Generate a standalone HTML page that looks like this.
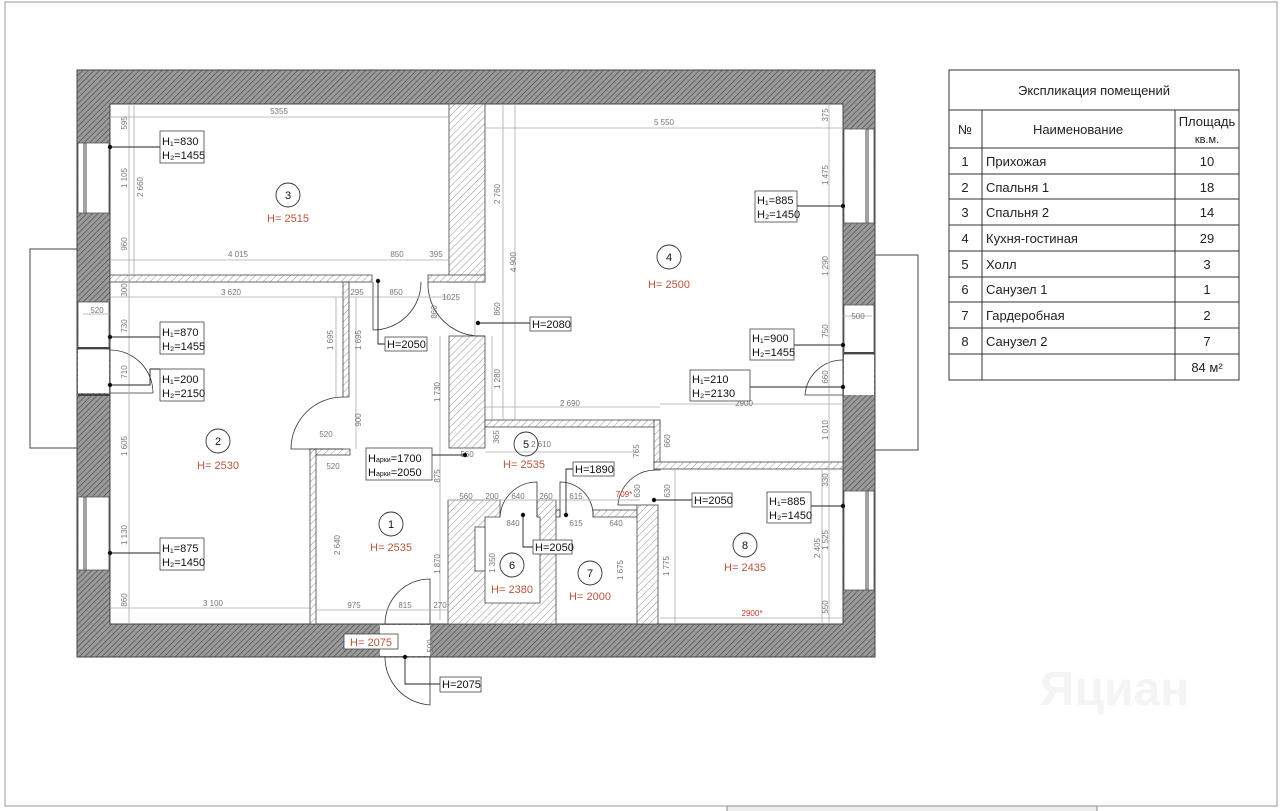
<!DOCTYPE html>
<html><head><meta charset="utf-8"><style>
html,body{margin:0;padding:0;background:#fff}
svg{display:block}
text{font-family:"Liberation Sans","DejaVu Sans",sans-serif}
.d{font-size:8px;fill:#777}
.t{font-size:11px;fill:#111}
.r{font-size:11px;fill:#b8553a}
.dl{stroke:#aaa;stroke-width:0.8;fill:none}
</style></head><body>
<svg width="1280" height="811" viewBox="0 0 1280 811" xmlns="http://www.w3.org/2000/svg">
<defs>
<pattern id="hd" width="4" height="4" patternUnits="userSpaceOnUse" patternTransform="rotate(45)">
<rect width="4" height="4" fill="#9a9a9a"/><line x1="0" y1="0" x2="0" y2="4" stroke="#444" stroke-width="1.2"/></pattern>
<pattern id="hl" width="5" height="5" patternUnits="userSpaceOnUse" patternTransform="rotate(45)">
<rect width="5" height="5" fill="#fff"/><line x1="0" y1="0" x2="0" y2="5" stroke="#777" stroke-width="0.8"/></pattern>
</defs>
<!-- page frame -->
<rect x="5" y="2" width="1272" height="804" fill="none" stroke="#999" stroke-width="1"/>
<rect x="727" y="806" width="370" height="6" fill="#eee" stroke="#888"/>

<!-- balconies -->
<polyline points="77,249 30,249 30,448 77,448" fill="none" stroke="#444"/>
<polyline points="875,255 918,255 918,450 875,450" fill="none" stroke="#444"/>

<!-- outer walls -->
<path d="M77,70 H875 V657 H77 Z M110,104 V624 H843 V104 Z" fill="url(#hd)" fill-rule="evenodd" stroke="#444"/>
<!-- openings in outer walls -->
<g fill="#fff" stroke="#555" stroke-width="0.8">
<rect x="78" y="143" width="31" height="70"/>
<rect x="78" y="302" width="31" height="48"/>
<rect x="78" y="350" width="31" height="43" stroke="none"/>
<rect x="78" y="497" width="31" height="73"/>
<rect x="844" y="129" width="30" height="94"/>
<rect x="844" y="305" width="30" height="50"/>
<rect x="844" y="355" width="30" height="40" stroke="none"/>
<rect x="844" y="491" width="30" height="99"/>
<rect x="380" y="625" width="50" height="31" stroke="none"/>
</g>
<g stroke="#444" stroke-width="1">
<line x1="84" y1="143" x2="84" y2="213"/><line x1="86" y1="143" x2="86" y2="213"/>
<line x1="84" y1="497" x2="84" y2="570"/><line x1="86" y1="497" x2="86" y2="570"/>
<line x1="866" y1="129" x2="866" y2="223"/><line x1="868" y1="129" x2="868" y2="223"/>
<line x1="866" y1="491" x2="866" y2="590"/><line x1="868" y1="491" x2="868" y2="590"/>
<line x1="78" y1="348" x2="110" y2="348" stroke-width="2"/>
<line x1="844" y1="353" x2="874" y2="353" stroke-width="2"/>
<line x1="78" y1="395" x2="110" y2="395" stroke-width="2"/>
</g>

<!-- interior walls -->
<g fill="url(#hl)" stroke="#444" stroke-width="0.8">
<rect x="449" y="104" width="36" height="178"/>
<rect x="428" y="275" width="57" height="7"/>
<rect x="110" y="275" width="262" height="7"/>
<rect x="343" y="282" width="6" height="115"/>
<rect x="449" y="336" width="36" height="112"/>
<rect x="485" y="420" width="175" height="7"/>
<rect x="654" y="420" width="6" height="50"/>
<rect x="654" y="462" width="189" height="7"/>
<rect x="310" y="449" width="40" height="6"/>
<rect x="310" y="449" width="6" height="175"/>
<path d="M448,500 H500 V517 H485 V603 H540 V517 H537 V500 H556 V624 H448 Z"/>
<rect x="556" y="510" width="4" height="7"/>
<rect x="593" y="510" width="44" height="7"/>
<rect x="637" y="505" width="21" height="119"/>
<rect x="475" y="527" width="10" height="44" fill="#fff"/>
</g>

<!-- doors -->
<g fill="none" stroke="#333" stroke-width="0.8">
<path d="M110,350 A43,43 0 0 1 153,393"/><line x1="153" y1="393" x2="110" y2="393"/>
<path d="M373,282 V330 A48,48 0 0 0 421,282"/>
<path d="M428,282 A52,52 0 0 0 480,336 H485"/>
<path d="M343,397 A52,52 0 0 0 291,449 H343"/>
<path d="M385,624 A45,45 0 0 1 430,579 V624"/>
<path d="M385,657 A48,48 0 0 0 430,705 V657"/>
<path d="M500,517 A37,37 0 0 1 537,482 V517"/>
<path d="M560,517 V482 A33,33 0 0 1 593,517"/>
<path d="M655,470 A38,38 0 0 0 618,505 H637"/>
<path d="M843,360 A38,38 0 0 0 805,395 H843"/>
</g>

<!-- dimension lines -->
<g class="dl">
<line x1="110" y1="117" x2="449" y2="117"/><line x1="485" y1="128" x2="843" y2="128"/>
<line x1="110" y1="260" x2="449" y2="260"/><line x1="110" y1="297" x2="449" y2="297"/>
<line x1="129" y1="104" x2="129" y2="624"/><line x1="134" y1="104" x2="134" y2="275"/>
<line x1="829" y1="104" x2="829" y2="624"/><line x1="503" y1="104" x2="503" y2="420"/><line x1="515" y1="104" x2="515" y2="420"/>
<line x1="485" y1="407" x2="660" y2="407"/><line x1="485" y1="452" x2="640" y2="452"/><line x1="448" y1="500" x2="640" y2="500"/>
<line x1="110" y1="608" x2="310" y2="608"/><line x1="316" y1="610" x2="448" y2="610"/><line x1="660" y1="404" x2="843" y2="404"/>
<line x1="660" y1="618" x2="843" y2="618"/><line x1="675" y1="470" x2="675" y2="624"/><line x1="822" y1="470" x2="822" y2="624"/>
<line x1="336" y1="297" x2="336" y2="397"/><line x1="356" y1="297" x2="356" y2="397"/><line x1="356" y1="397" x2="356" y2="449"/>
<line x1="440" y1="336" x2="440" y2="620"/><line x1="475" y1="282" x2="475" y2="336"/><line x1="492" y1="336" x2="492" y2="420"/>
<line x1="83" y1="314" x2="110" y2="314"/><line x1="843" y1="316" x2="872" y2="316"/>
</g>
<g class="d" text-anchor="middle">
<text x="279" y="114">5355</text><text x="664" y="125">5 550</text>
<text x="238" y="257">4 015</text><text x="397" y="257">850</text><text x="436" y="257">395</text>
<text x="231" y="295">3 620</text><text x="357" y="295">295</text><text x="396" y="295">850</text><text x="451" y="300">1025</text>
<text x="97" y="313">520</text><text x="858" y="319">500</text>
<text x="326" y="437">520</text><text x="333" y="469">520</text>
<text x="467" y="457">560</text><text x="541" y="447">2 610</text><text x="570" y="406">2 690</text><text x="744" y="406">2900</text>
<text x="466" y="499">560</text><text x="492" y="499">200</text><text x="518" y="499">640</text><text x="546" y="499">260</text><text x="576" y="499">615</text>
<text x="513" y="526">840</text><text x="576" y="526">615</text><text x="616" y="526">640</text>
<text x="213" y="606">3 100</text><text x="354" y="608">975</text><text x="405" y="608">815</text><text x="440" y="608">270</text>
</g>
<g class="d" text-anchor="middle">
<text transform="translate(127,123) rotate(-90)">595</text>
<text transform="translate(127,178) rotate(-90)">1 105</text>
<text transform="translate(143,187) rotate(-90)">2 660</text>
<text transform="translate(127,244) rotate(-90)">960</text>
<text transform="translate(127,290) rotate(-90)">300</text>
<text transform="translate(127,326) rotate(-90)">730</text>
<text transform="translate(127,372) rotate(-90)">710</text>
<text transform="translate(127,446) rotate(-90)">1 605</text>
<text transform="translate(127,535) rotate(-90)">1 130</text>
<text transform="translate(127,600) rotate(-90)">860</text>
<text transform="translate(333,340) rotate(-90)">1 695</text>
<text transform="translate(361,340) rotate(-90)">1 695</text>
<text transform="translate(361,420) rotate(-90)">900</text>
<text transform="translate(340,545) rotate(-90)">2 640</text>
<text transform="translate(440,392) rotate(-90)">1 730</text>
<text transform="translate(440,476) rotate(-90)">875</text>
<text transform="translate(440,564) rotate(-90)">1 870</text>
<text transform="translate(437,312) rotate(-90)">860</text>
<text transform="translate(500,194) rotate(-90)">2 760</text>
<text transform="translate(516,262) rotate(-90)">4 900</text>
<text transform="translate(500,309) rotate(-90)">860</text>
<text transform="translate(500,379) rotate(-90)">1 280</text>
<text transform="translate(499,437) rotate(-90)">365</text>
<text transform="translate(495,563) rotate(-90)">1 350</text>
<text transform="translate(623,570) rotate(-90)">1 675</text>
<text transform="translate(669,566) rotate(-90)">1 775</text>
<text transform="translate(639,451) rotate(-90)">765</text>
<text transform="translate(670,441) rotate(-90)">660</text>
<text transform="translate(640,491) rotate(-90)">630</text>
<text transform="translate(670,491) rotate(-90)">630</text>
<text transform="translate(828,115) rotate(-90)">375</text>
<text transform="translate(828,175) rotate(-90)">1 475</text>
<text transform="translate(828,266) rotate(-90)">1 290</text>
<text transform="translate(828,331) rotate(-90)">750</text>
<text transform="translate(828,377) rotate(-90)">660</text>
<text transform="translate(828,430) rotate(-90)">1 010</text>
<text transform="translate(828,480) rotate(-90)">330</text>
<text transform="translate(828,540) rotate(-90)">1 525</text>
<text transform="translate(820,548) rotate(-90)">2 405</text>
<text transform="translate(828,607) rotate(-90)">550</text>
<text transform="translate(433,646) rotate(-90)">500</text>
</g>
<text x="624" y="497" font-size="8" fill="#c0392b" text-anchor="middle">709*</text>
<text x="752" y="616" font-size="8" fill="#c0392b" text-anchor="middle">2900*</text>

<!-- room labels -->
<g fill="none" stroke="#333" stroke-width="0.9">
<circle cx="288" cy="195" r="12"/><circle cx="669" cy="257" r="12"/><circle cx="218" cy="441" r="12"/>
<circle cx="391" cy="524" r="12"/><circle cx="526" cy="444" r="12"/><circle cx="512" cy="565" r="12"/>
<circle cx="590" cy="573" r="12"/><circle cx="745" cy="545" r="12"/>
</g>
<g class="t" text-anchor="middle" font-size="11">
<text x="288" y="199">3</text><text x="669" y="261">4</text><text x="218" y="445">2</text><text x="391" y="528">1</text>
<text x="526" y="448">5</text><text x="512" y="569">6</text><text x="590" y="577">7</text><text x="745" y="549">8</text>
</g>
<g class="r" text-anchor="middle">
<text x="288" y="222">H= 2515</text><text x="669" y="288">H= 2500</text><text x="218" y="469">H= 2530</text>
<text x="391" y="551">H= 2535</text><text x="524" y="468">H= 2535</text><text x="512" y="593">H= 2380</text>
<text x="590" y="600">H= 2000</text><text x="745" y="571">H= 2435</text>
</g>

<!-- tags -->
<g stroke="#222" stroke-width="0.9" fill="none">
<line x1="110" y1="147" x2="160" y2="147"/><line x1="110" y1="337" x2="160" y2="337"/>
<polyline points="110,385 150,385 150,369 160,369"/><line x1="110" y1="553" x2="160" y2="553"/>
<polyline points="378,281 378,344 385,344"/><line x1="478" y1="323" x2="530" y2="323"/>
<line x1="843" y1="206" x2="797" y2="206"/><line x1="843" y1="345" x2="794" y2="345"/><line x1="843" y1="387" x2="750" y2="387"/>
<line x1="465" y1="455" x2="432" y2="455"/>
<polyline points="566,517 566,469 573,469"/><polyline points="523,515 523,547 533,547"/>
<line x1="654" y1="500" x2="692" y2="500"/><line x1="843" y1="506" x2="811" y2="506"/>
<polyline points="405,657 405,684 440,684"/>
</g>
<g fill="#111">
<circle cx="110" cy="147" r="2.2"/><circle cx="110" cy="337" r="2.2"/><circle cx="110" cy="385" r="2.2"/><circle cx="110" cy="553" r="2.2"/>
<circle cx="378" cy="281" r="2.2"/><circle cx="478" cy="323" r="2.2"/><circle cx="843" cy="206" r="2.2"/><circle cx="843" cy="345" r="2.2"/>
<circle cx="843" cy="387" r="2.2"/><circle cx="465" cy="455" r="2.2"/><circle cx="566" cy="515" r="2.2"/><circle cx="523" cy="515" r="2.2"/>
<circle cx="654" cy="500" r="2.2"/><circle cx="843" cy="506" r="2.2"/><circle cx="405" cy="657" r="2.2"/>
</g>
<g fill="#fff" stroke="#444" stroke-width="0.8">
<rect x="160" y="131" width="44" height="32"/><rect x="160" y="322" width="44" height="32"/><rect x="160" y="369" width="44" height="32"/><rect x="160" y="538" width="44" height="32"/>
<rect x="385" y="337" width="42" height="14"/><rect x="530" y="317" width="41" height="14"/>
<rect x="755" y="191" width="42" height="31"/><rect x="750" y="329" width="44" height="31"/><rect x="690" y="370" width="60" height="31"/>
<rect x="366" y="448" width="66" height="32"/><rect x="573" y="462" width="41" height="14"/><rect x="533" y="540" width="39" height="14"/>
<rect x="692" y="493" width="40" height="14"/><rect x="767" y="492" width="44" height="31"/>
<rect x="344" y="634" width="54" height="15"/><rect x="440" y="677" width="41" height="15"/>
</g>
<g class="t" font-size="10.5">
<text x="162" y="145">H₁=830</text><text x="162" y="159">H₂=1455</text>
<text x="162" y="336">H₁=870</text><text x="162" y="350">H₂=1455</text>
<text x="162" y="383">H₁=200</text><text x="162" y="397">H₂=2150</text>
<text x="162" y="552">H₁=875</text><text x="162" y="566">H₂=1450</text>
<text x="387" y="348">H=2050</text><text x="532" y="328">H=2080</text>
<text x="757" y="204">H₁=885</text><text x="757" y="218">H₂=1450</text>
<text x="752" y="342">H₁=900</text><text x="752" y="356">H₂=1455</text>
<text x="692" y="383">H₁=210</text><text x="692" y="397">H₂=2130</text>
<text x="368" y="462">H<tspan font-size="7">арки</tspan>=1700</text><text x="368" y="476">H<tspan font-size="7">арки</tspan>=2050</text>
<text x="575" y="473">H=1890</text><text x="535" y="551">H=2050</text><text x="694" y="504">H=2050</text>
<text x="769" y="505">H₁=885</text><text x="769" y="519">H₂=1450</text>
<text x="442" y="688">H=2075</text>
</g>
<text x="371" y="646" class="r" text-anchor="middle">H= 2075</text>

<!-- table -->
<g stroke="#333" stroke-width="1" fill="none">
<rect x="949" y="70" width="290" height="310"/>
<line x1="949" y1="110" x2="1239" y2="110"/><line x1="949" y1="148" x2="1239" y2="148"/>
<line x1="949" y1="174" x2="1239" y2="174"/><line x1="949" y1="199" x2="1239" y2="199"/>
<line x1="949" y1="225" x2="1239" y2="225"/><line x1="949" y1="251" x2="1239" y2="251"/>
<line x1="949" y1="277" x2="1239" y2="277"/><line x1="949" y1="302" x2="1239" y2="302"/>
<line x1="949" y1="328" x2="1239" y2="328"/><line x1="949" y1="354" x2="1239" y2="354"/>
<line x1="982" y1="110" x2="982" y2="380"/><line x1="1175" y1="110" x2="1175" y2="380"/>
</g>
<g font-size="13" fill="#222">
<text x="1094" y="95" text-anchor="middle">Экспликация помещений</text>
<text x="965" y="134" text-anchor="middle">№</text><text x="1078" y="134" text-anchor="middle">Наименование</text>
<text x="1207" y="126" text-anchor="middle">Площадь</text><text x="1207" y="143" text-anchor="middle" font-size="11">кв.м.</text>
<g text-anchor="middle">
<text x="965" y="166">1</text><text x="965" y="192">2</text><text x="965" y="217">3</text><text x="965" y="243">4</text>
<text x="965" y="269">5</text><text x="965" y="294">6</text><text x="965" y="320">7</text><text x="965" y="346">8</text>
<text x="1207" y="166">10</text><text x="1207" y="192">18</text><text x="1207" y="217">14</text><text x="1207" y="243">29</text>
<text x="1207" y="269">3</text><text x="1207" y="294">1</text><text x="1207" y="320">2</text><text x="1207" y="346">7</text>
<text x="1207" y="372">84 м²</text>
</g>
<text x="986" y="166">Прихожая</text><text x="986" y="192">Спальня 1</text><text x="986" y="217">Спальня 2</text>
<text x="986" y="243">Кухня-гостиная</text><text x="986" y="269">Холл</text><text x="986" y="294">Санузел 1</text>
<text x="986" y="320">Гардеробная</text><text x="986" y="346">Санузел 2</text>
</g>
<text x="1040" y="705" font-size="48" fill="#f4f4f4" font-weight="bold">Яциан</text>
</svg>
</body></html>
